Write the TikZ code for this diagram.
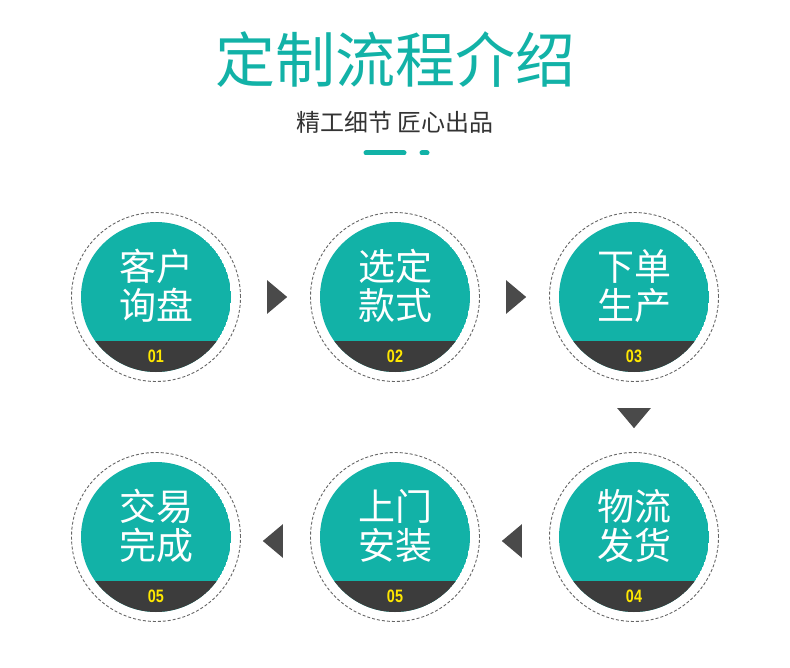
\documentclass[tikz,border=0pt]{standalone}
\usepackage{fontspec}
\setmainfont{Liberation Sans}
\newfontfamily\cjk{Noto Sans CJK SC}
\usetikzlibrary{shapes.geometric}
\definecolor{tealc}{HTML}{12B2A7}
\definecolor{darkband}{HTML}{3C3C3C}
\definecolor{numyellow}{HTML}{FFE800}
\definecolor{arrowgray}{HTML}{4A4A4A}
\tikzset{
  ring/.style={circle, draw=black!60, dash pattern=on 3pt off 2pt, line width=0.9pt, minimum size=169pt, inner sep=0pt},
  steptext/.style={text=white, align=center, font=\cjk\fontsize{37}{39}\selectfont, inner sep=0pt},
  numtext/.style={text=numyellow, font=\bfseries\fontsize{18}{18}\selectfont, inner sep=0pt},
  tri/.style={isosceles triangle, isosceles triangle apex angle=80, fill=arrowgray, inner sep=0pt, minimum height=20pt, minimum width=24pt, draw=none},
  bar/.style={line width=5pt, line cap=round, tealc}
}
\newcommand{\flowstep}[6]{%
  \begin{scope}
    \clip (#2,#3) circle (75);
    \fill[tealc] (#2,#3) circle (75);
    \fill[darkband] (#2-80,#3+44) rectangle (#2+80,#3+80);
  \end{scope}
  \node[ring] (#1) at (#2,#3) {};
  \node[steptext] (#1t) at (#2,#3-11) {#4\\#5};
  \node[numtext] (#1n) at (#2,#3+59) {\scalebox{0.8}[1]{#6}};
}
\begin{document}
\begin{tikzpicture}[x=1pt,y=-1pt]
\useasboundingbox (0,0) rectangle (790,668);
\fill[white] (0,0) rectangle (790,668);
\node[text=tealc, font=\cjk\fontsize{60}{60}\selectfont, inner sep=0pt] (title) at (395,60) {定制流程介绍};
\node[text=black!80, font=\cjk\fontsize{24}{24}\selectfont, inner sep=0pt] (sub) at (395,122) {精工细节 匠心出品};
\coordinate (b1s) at (366,153); \coordinate (b1e) at (404,153);
\coordinate (b2s) at (422,153); \coordinate (b2e) at (427,153);
\draw[bar] (b1s) -- (b1e);
\draw[bar] (b2s) -- (b2e);
\flowstep{s1}{156}{297}{客户}{询盘}{01}
\flowstep{s2}{395}{297}{选定}{款式}{02}
\flowstep{s3}{634}{297}{下单}{生产}{03}
\flowstep{s4}{634}{537}{物流}{发货}{04}
\flowstep{s5}{395}{537}{上门}{安装}{05}
\flowstep{s6}{156}{537}{交易}{完成}{05}
\node[tri, shape border rotate=0] (a12) at (275,297) {};
\node[tri, shape border rotate=0] (a23) at (514,297) {};
\node[tri, shape border rotate=270] (a34) at (634,416) {};
\node[tri, shape border rotate=180] (a45) at (514,541) {};
\node[tri, shape border rotate=180] (a56) at (275,541) {};
\end{tikzpicture}
\end{document}
